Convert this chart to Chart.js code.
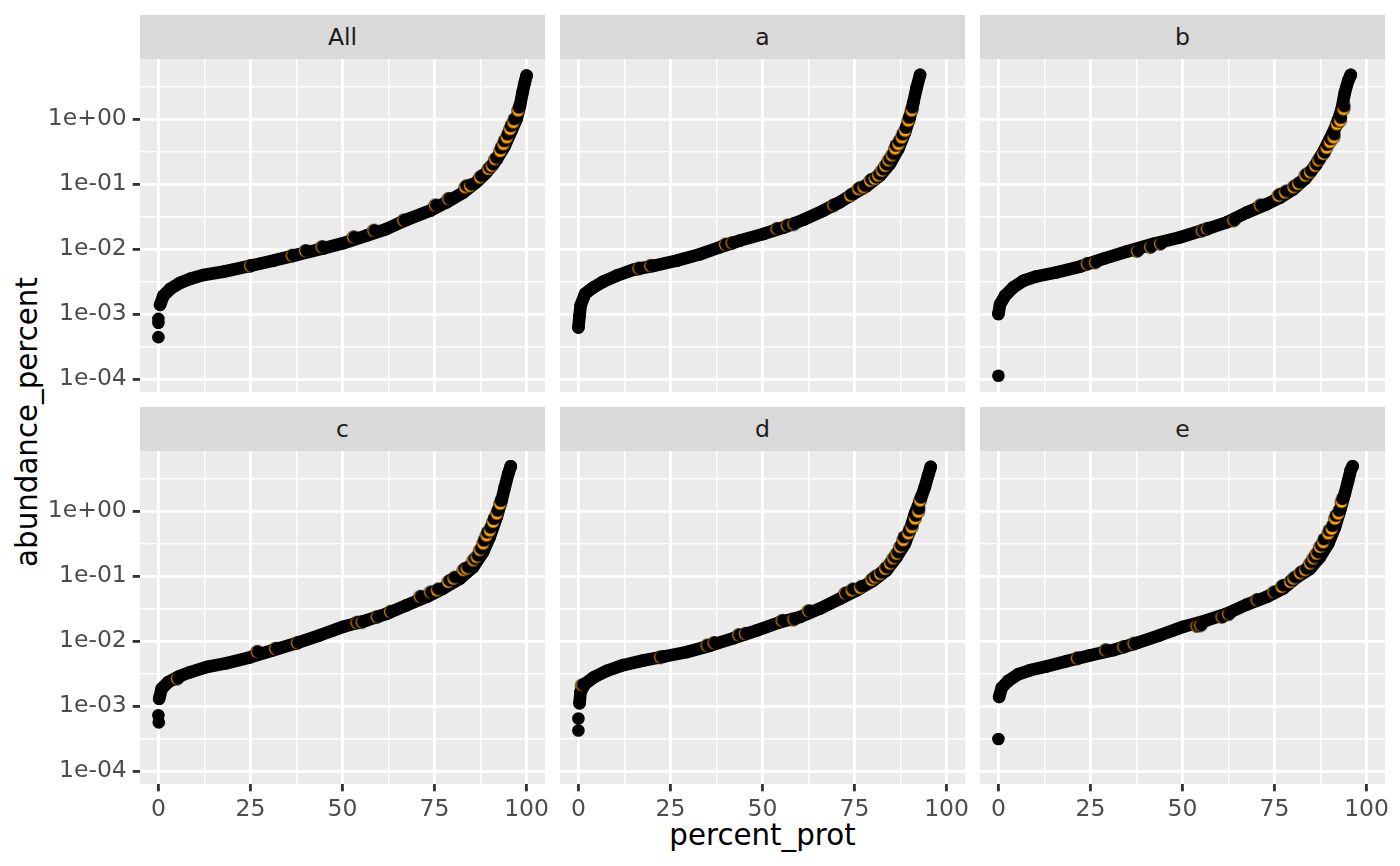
<!DOCTYPE html>
<html>
<head>
<meta charset="utf-8">
<title>abundance_percent vs percent_prot</title>
<script src="https://cdn.jsdelivr.net/npm/chart.js@4.4.1/dist/chart.umd.min.js"></script>
<style>
    body { margin: 0; width: 1400px; height: 866px; position: relative; overflow: hidden; background: #FFFFFF; font-family: 'DejaVu Sans', sans-serif; }
    canvas { position: absolute; }
    .strip { position: absolute; width: 405px; height: 44px; line-height: 44px; background: #D9D9D9; color: #1A1A1A; font-size: 23.5px; text-align: center; }
    .xtitle { position: absolute; left: 140px; width: 1245px; top: 817px; height: 36px; line-height: 36px; text-align: center; font-size: 29.3px; color: #000000; }
    .ytitle { position: absolute; left: -173px; top: 404px; width: 400px; height: 36px; line-height: 36px; text-align: center; font-size: 29.3px; color: #000000; transform: rotate(-90deg); }
</style>
</head>
<body>
<div class="xtitle">percent_prot</div>
<div class="ytitle">abundance_percent</div>
<script>
//----------------------------------------------------------------------------------------------------------------------------
// data (x = percent_prot, y = abundance_percent)
//----------------------------------------------------------------------------------------------------------------------------
var panelNames = ["All", "a", "b", "c", "d", "e"];

var xTickValues = [0, 25, 50, 75, 100];
var xTickLabels = ["0", "25", "50", "75", "100"];
var yTickValues = [1e-4, 1e-3, 1e-2, 1e-1, 1];
var yTickLabels = ["1e-04", "1e-03", "1e-02", "1e-01", "1e+00"];

// main run of points in each panel
var allX = [0.45, 1.36, 3.2, 5.9, 8.6, 12.2, 17.6, 24.9, 31.2, 37.6, 44.8, 50.2, 56.6, 62.0, 67.4, 73.8, 78.3, 82.8, 86.4, 89.1, 91.9, 94.1, 95.9, 97.3, 98.2, 98.9, 99.5, 100];
var allY = [1.38e-3, 1.91e-3, 2.43e-3, 3.02e-3, 3.47e-3, 3.98e-3, 4.47e-3, 5.50e-3, 6.61e-3, 8.13e-3, 1.02e-2, 1.23e-2, 1.62e-2, 2.04e-2, 2.82e-2, 3.89e-2, 5.25e-2, 7.41e-2, 0.107, 0.151, 0.240, 0.389, 0.661, 1.0, 1.60, 2.57, 3.63, 4.68];
var aX = [0, 0.3, 0.6, 1.8, 4.1, 6.8, 10.4, 14.9, 20.4, 26.7, 33.0, 38.5, 43.9, 50.2, 55.7, 61.1, 66.5, 71.0, 74.7, 78.3, 81.9, 84.6, 86.9, 88.7, 90.0, 91.0, 91.9, 92.8];
var aY = [6.2e-4, 9.3e-4, 1.35e-3, 2.04e-3, 2.57e-3, 3.16e-3, 3.89e-3, 4.79e-3, 5.50e-3, 6.61e-3, 8.32e-3, 1.07e-2, 1.35e-2, 1.70e-2, 2.14e-2, 2.82e-2, 3.89e-2, 5.25e-2, 7.08e-2, 9.33e-2, 0.135, 0.204, 0.347, 0.624, 1.07, 1.82, 3.09, 4.79];
var bX = [0, 0.45, 1.8, 4.1, 6.8, 10.4, 15.8, 22.2, 28.5, 34.8, 42.1, 49.3, 56.6, 62.0, 67.4, 72.9, 76.5, 80.1, 83.3, 86.0, 88.2, 90.0, 91.9, 93.2, 94.1, 95.0, 95.7];
var bY = [1.0e-3, 1.41e-3, 1.91e-3, 2.57e-3, 3.24e-3, 3.80e-3, 4.37e-3, 5.37e-3, 7.08e-3, 9.12e-3, 1.20e-2, 1.51e-2, 2.04e-2, 2.57e-2, 3.63e-2, 4.90e-2, 6.17e-2, 8.32e-2, 0.120, 0.191, 0.309, 0.490, 0.832, 1.41, 2.57, 3.89, 4.79];
var cX = [0.2, 0.9, 2.7, 5.4, 8.6, 13.1, 18.6, 24.9, 31.2, 37.6, 43.9, 50.2, 56.6, 62.0, 67.4, 72.9, 77.4, 81.9, 85.5, 88.2, 90.0, 91.9, 93.2, 94.1, 95.0, 95.7];
var cY = [1.29e-3, 1.86e-3, 2.34e-3, 2.82e-3, 3.31e-3, 3.98e-3, 4.57e-3, 5.62e-3, 7.24e-3, 9.33e-3, 1.23e-2, 1.66e-2, 2.09e-2, 2.63e-2, 3.55e-2, 4.79e-2, 6.46e-2, 9.12e-2, 0.138, 0.234, 0.398, 0.813, 1.45, 2.34, 3.72, 4.90];
var dX = [0.3, 0.6, 1.8, 4.1, 7.7, 12.2, 17.6, 23.1, 29.4, 35.8, 42.1, 48.4, 54.8, 60.2, 65.6, 71.0, 75.6, 80.1, 83.7, 86.4, 88.7, 90.0, 91.4, 92.8, 94.1, 95.0, 95.7];
var dY = [1.10e-3, 1.66e-3, 2.19e-3, 2.75e-3, 3.47e-3, 4.27e-3, 5.01e-3, 5.75e-3, 6.76e-3, 8.51e-3, 1.10e-2, 1.45e-2, 1.95e-2, 2.34e-2, 3.16e-2, 4.47e-2, 6.03e-2, 8.51e-2, 0.123, 0.195, 0.316, 0.501, 0.912, 1.45, 2.34, 3.55, 4.79];
var eX = [0.2, 0.9, 2.7, 5.4, 8.6, 13.1, 18.6, 24.9, 31.2, 37.6, 43.9, 50.2, 56.6, 62.0, 67.4, 72.9, 77.4, 81.0, 84.6, 87.3, 89.6, 91.4, 92.8, 94.1, 95.0, 95.7, 96.2];
var eY = [1.38e-3, 1.91e-3, 2.45e-3, 3.09e-3, 3.55e-3, 4.07e-3, 4.90e-3, 6.03e-3, 7.24e-3, 9.33e-3, 1.23e-2, 1.66e-2, 2.09e-2, 2.63e-2, 3.63e-2, 4.79e-2, 6.46e-2, 9.55e-2, 0.129, 0.195, 0.316, 0.562, 1.02, 1.86, 2.95, 4.27, 4.90];

// lone low points at the left end
var allLowX = [0, 0, 0];
var allLowY = [8.4e-4, 7.3e-4, 4.4e-4];
var aLowX = [];
var aLowY = [];
var bLowX = [0];
var bLowY = [1.12e-4];
var cLowX = [0, 0.1];
var cLowY = [7.2e-4, 5.6e-4];
var dLowX = [0, 0];
var dLowY = [6.4e-4, 4.2e-4];
var eLowX = [0];
var eLowY = [3.1e-4];

// orange highlighted points
var allHiX = [24.9, 36.2, 39.8, 44.3, 52.9, 58.4, 66.5, 75.1, 78.7, 83.3, 84.6, 87.3, 89.6, 90.5, 91.4, 92.8, 93.7, 94.6, 95.5, 96.4, 97.7];
var allHiY = [5.5e-3, 7.9e-3, 9.3e-3, 1.07e-2, 1.51e-2, 1.91e-2, 2.75e-2, 4.68e-2, 5.9e-2, 8.9e-2, 9.3e-2, 0.126, 0.170, 0.19, 0.24, 0.32, 0.41, 0.52, 0.70, 0.89, 1.35];
var aHiX = [16.3, 19.5, 39.8, 41.6, 53.8, 56.6, 58.4, 69.2, 73.8, 76.0, 77.4, 79.2, 80.5, 81.4, 82.4, 83.3, 84.2, 85.1, 86.0, 86.9, 87.8, 88.7, 89.6, 90.5];
var aHiY = [5.0e-3, 5.5e-3, 1.17e-2, 1.23e-2, 2.04e-2, 2.29e-2, 2.4e-2, 4.7e-2, 6.6e-2, 8.3e-2, 8.9e-2, 0.112, 0.12, 0.135, 0.16, 0.19, 0.23, 0.275, 0.35, 0.41, 0.52, 0.66, 0.94, 1.35];
var bHiX = [24.0, 26.2, 37.6, 41.2, 43.9, 55.2, 56.6, 63.8, 71.0, 76.0, 77.8, 80.1, 81.4, 83.3, 84.6, 86.0, 86.9, 88.2, 89.1, 90.0, 91.0, 91.9, 92.8, 93.7];
var bHiY = [5.9e-3, 6.2e-3, 9.3e-3, 1.07e-2, 1.2e-2, 1.91e-2, 2.04e-2, 2.75e-2, 4.68e-2, 6.6e-2, 7.4e-2, 8.9e-2, 0.10, 0.135, 0.151, 0.19, 0.23, 0.29, 0.36, 0.44, 0.52, 0.83, 0.94, 1.41];
var cHiX = [5.0, 26.7, 31.7, 37.6, 53.8, 55.2, 59.3, 62.9, 71.0, 73.8, 75.6, 78.7, 80.1, 82.8, 83.7, 85.5, 86.4, 87.3, 88.2, 89.1, 90.0, 90.9, 91.9, 92.8];
var cHiY = [2.63e-3, 6.8e-3, 7.6e-3, 9.3e-3, 1.91e-2, 1.95e-2, 2.34e-2, 2.82e-2, 4.79e-2, 5.6e-2, 6.0e-2, 8.1e-2, 9.1e-2, 0.123, 0.13, 0.174, 0.195, 0.25, 0.315, 0.42, 0.50, 0.68, 0.91, 1.29];
var dHiX = [0.9, 22.2, 34.8, 36.7, 43.4, 45.2, 55.2, 58.4, 62.4, 72.4, 74.2, 76.5, 79.6, 80.5, 81.9, 83.3, 84.6, 85.5, 86.4, 87.3, 88.2, 89.6, 90.5, 91.4, 92.3, 92.8];
var dHiY = [2.09e-3, 5.6e-3, 8.5e-3, 9.3e-3, 1.23e-2, 1.29e-2, 2.04e-2, 2.14e-2, 2.88e-2, 5.4e-2, 6.0e-2, 6.6e-2, 8.7e-2, 9.5e-2, 0.107, 0.129, 0.155, 0.186, 0.22, 0.28, 0.355, 0.45, 0.56, 0.76, 0.97, 1.45];
var eHiX = [21.3, 29.0, 33.9, 36.7, 53.8, 54.8, 60.6, 62.4, 70.1, 74.7, 76.9, 79.2, 80.1, 81.9, 83.3, 84.6, 85.5, 86.4, 87.3, 88.2, 89.6, 90.5, 91.4, 92.3, 93.2];
var eHiY = [5.4e-3, 7.2e-3, 8.1e-3, 9.1e-3, 1.7e-2, 1.74e-2, 2.34e-2, 2.57e-2, 4.27e-2, 5.6e-2, 6.8e-2, 8.1e-2, 9.1e-2, 0.11, 0.123, 0.155, 0.186, 0.22, 0.28, 0.33, 0.45, 0.53, 0.76, 0.91, 1.38];

var curveXs = [allX, aX, bX, cX, dX, eX];
var curveYs = [allY, aY, bY, cY, dY, eY];
var lowXs = [allLowX, aLowX, bLowX, cLowX, dLowX, eLowX];
var lowYs = [allLowY, aLowY, bLowY, cLowY, dLowY, eLowY];
var hiXs = [allHiX, aHiX, bHiX, cHiX, dHiX, eHiX];
var hiYs = [allHiY, aHiY, bHiY, cHiY, dHiY, eHiY];

//----------------------------------------------------------------------------------------------------------------------------
// layout / style
//----------------------------------------------------------------------------------------------------------------------------
var X_MIN = -5, X_MAX = 105;
var Y_MIN = 6.3e-5, Y_MAX = 8.4;
var PANEL_W = 405, PANEL_H = 333;
var AXIS_W = 140, AXIS_H = 60;
var LABEL_ROOM = 30;         // extra room right of the bottom panels so "100" is not cut
var colLeft = [140, 560, 980];
var rowTop = [59, 451];
var stripTop = [15, 407];
var DOT_R = 6.3;

Chart.defaults.font.family = "'DejaVu Sans', sans-serif";

function toPoints(xs, ys) {
    return xs.map(function (x, i) { return { x: x, y: ys[i] }; });
}

// orange point partly covered by the next black point, like the overplotted original
function makeOrangeDot(dx, dy) {
    var c = document.createElement("canvas");
    c.width = 24; c.height = 24;
    var g = c.getContext("2d");
    g.beginPath();
    g.arc(12, 12, DOT_R, 0, 2 * Math.PI);
    g.fillStyle = "#FFA500";
    g.fill();
    g.lineWidth = 0.8;
    g.strokeStyle = "#000000";
    g.stroke();
    g.beginPath();
    g.arc(12 + dx, 12 + dy, DOT_R, 0, 2 * Math.PI);
    g.fillStyle = "#000000";
    g.fill();
    return c;
}
var dotFlat = makeOrangeDot(1.3, -0.4);
var dotMid = makeOrangeDot(1.4, -1.6);
var dotSteep = makeOrangeDot(0.8, -3.2);

var xGridValues = [0, 12.5, 25, 37.5, 50, 62.5, 75, 87.5, 100];
var yGridValues = [];
yTickValues.forEach(function (v) {
    yGridValues.push(v);
    if (v * Math.sqrt(10) < Y_MAX) { yGridValues.push(v * Math.sqrt(10)); }
});

function isMajorX(v) { return xTickValues.indexOf(v) >= 0; }
function isMajorY(v) { return yTickValues.indexOf(v) >= 0; }

// labels may hang past the panel edge: keep the panel itself at a fixed size
function noOverhang(s) {
    s.paddingTop = 0; s.paddingBottom = 0; s.paddingLeft = 0; s.paddingRight = 0;
}

var panelBg = {
    id: "panelBg",
    beforeDraw: function (chart) {
        var a = chart.chartArea, c = chart.ctx;
        c.save();
        c.fillStyle = "#EBEBEB";
        c.fillRect(a.left, a.top, a.right - a.left, a.bottom - a.top);
        c.restore();
    }
};

function DrawPanel(i) {
    var col = i % 3, row = Math.floor(i / 3);
    var showY = col === 0, showX = row === 1;
    var extraRight = showX ? LABEL_ROOM : 0;

    var strip = document.createElement("div");
    strip.className = "strip";
    strip.style.left = colLeft[col] + "px";
    strip.style.top = stripTop[row] + "px";
    strip.textContent = panelNames[i];
    document.body.appendChild(strip);

    var cv = document.createElement("canvas");
    cv.width = PANEL_W + (showY ? AXIS_W : 0) + extraRight;
    cv.height = PANEL_H + (showX ? AXIS_H : 0);
    cv.style.left = (showY ? colLeft[col] - AXIS_W : colLeft[col]) + "px";
    cv.style.top = rowTop[row] + "px";
    document.body.appendChild(cv);

    new Chart(cv, {
        type: "scatter",
        data: {
            datasets: [
                {
                    data: toPoints(hiXs[i], hiYs[i]),
                    order: 0,
                    pointRadius: DOT_R,
                    pointStyle: function (ctx) {
                        var v = ctx.raw ? ctx.raw.y : 0;
                        return v >= 0.3 ? dotSteep : (v >= 0.06 ? dotMid : dotFlat);
                    }
                },
                {
                    data: toPoints(lowXs[i], lowYs[i]),
                    order: 1,
                    pointRadius: DOT_R,
                    pointBackgroundColor: "#000000",
                    pointBorderWidth: 0
                },
                {
                    data: toPoints(curveXs[i], curveYs[i]),
                    order: 2,
                    showLine: true,
                    borderColor: "#000000",
                    borderWidth: 2 * DOT_R,
                    borderCapStyle: "round",
                    borderJoinStyle: "round",
                    tension: 0,
                    pointRadius: DOT_R,
                    pointBackgroundColor: "#000000",
                    pointBorderWidth: 0
                }
            ]
        },
        options: {
            responsive: false,
            animation: false,
            devicePixelRatio: 1,
            events: [],
            layout: { padding: { left: 0, top: 0, bottom: 0, right: extraRight }, autoPadding: false },
            plugins: { legend: { display: false }, tooltip: { enabled: false } },
            scales: {
                x: {
                    type: "linear",
                    min: X_MIN,
                    max: X_MAX,
                    afterBuildTicks: function (s) { s.ticks = xGridValues.map(function (v) { return { value: v }; }); },
                    afterFit: function (s) { s.height = showX ? AXIS_H : 0; noOverhang(s); },
                    border: { display: false },
                    grid: {
                        color: "#FFFFFF",
                        lineWidth: function (c) { return c.tick && isMajorX(c.tick.value) ? 2.85 : 1.42; },
                        drawTicks: showX,
                        tickLength: 7.3,
                        tickWidth: 2.85,
                        tickColor: function (c) { return c.tick && isMajorX(c.tick.value) ? "#333333" : "rgba(0,0,0,0)"; }
                    },
                    ticks: {
                        display: showX,
                        autoSkip: false,
                        maxRotation: 0,
                        padding: 4,
                        color: "#4D4D4D",
                        font: { size: 23.5 },
                        callback: function (v) { var k = xTickValues.indexOf(v); return k < 0 ? "" : xTickLabels[k]; }
                    }
                },
                y: {
                    type: "logarithmic",
                    min: Y_MIN,
                    max: Y_MAX,
                    afterBuildTicks: function (s) { s.ticks = yGridValues.map(function (v) { return { value: v }; }); },
                    afterFit: function (s) { s.width = showY ? AXIS_W : 0; noOverhang(s); },
                    border: { display: false },
                    grid: {
                        color: "#FFFFFF",
                        lineWidth: function (c) { return c.tick && isMajorY(c.tick.value) ? 2.85 : 1.42; },
                        drawTicks: showY,
                        tickLength: 7.3,
                        tickWidth: 2.85,
                        tickColor: function (c) { return c.tick && isMajorY(c.tick.value) ? "#333333" : "rgba(0,0,0,0)"; }
                    },
                    ticks: {
                        display: showY,
                        autoSkip: false,
                        padding: 5.9,
                        color: "#4D4D4D",
                        font: { size: 23.5 },
                        callback: function (v) { var k = yTickValues.indexOf(v); return k < 0 ? "" : yTickLabels[k]; }
                    }
                }
            }
        },
        plugins: [panelBg]
    });
}

try {
    for (var i = 0; i < panelNames.length; i++) { DrawPanel(i); }
}
catch (e) {
    console.log("chart error: " + e.message);
}
</script>
</body>
</html>
